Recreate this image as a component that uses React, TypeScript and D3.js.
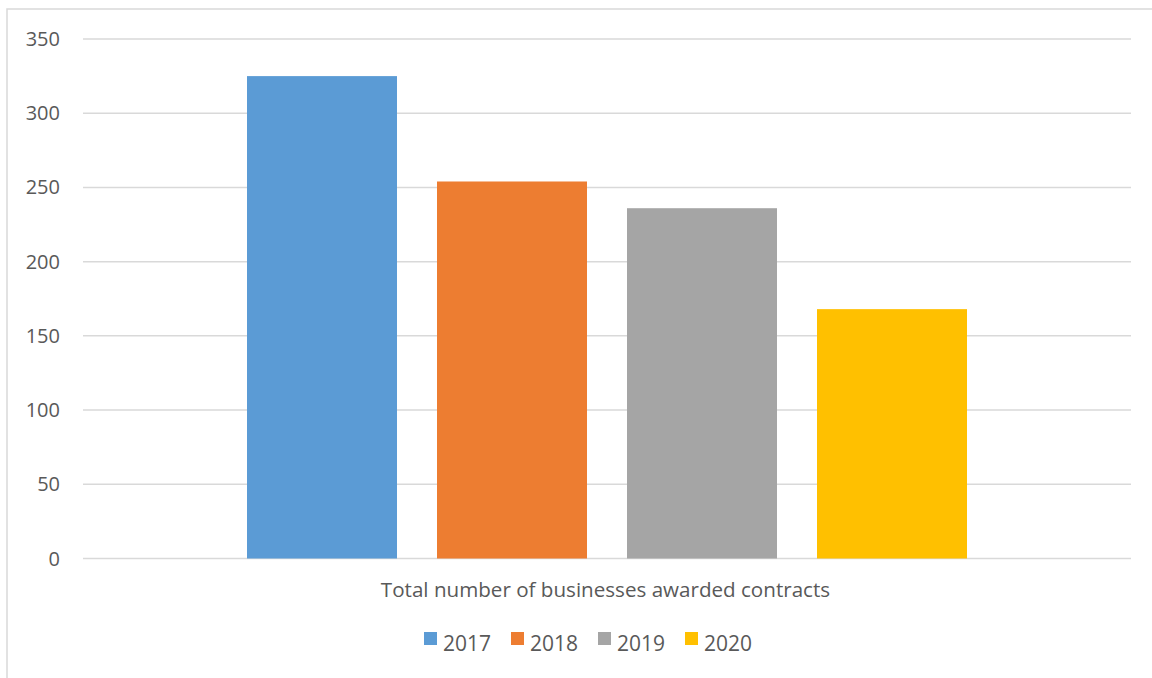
import React from "react";
import * as d3 from "d3";

const categories = ["Total number of businesses awarded contracts"];
const seriesNames = ["2017", "2018", "2019", "2020"];
const seriesValues = [325, 254, 236, 168];
const seriesColors = ["#5b9bd5", "#ed7d31", "#a5a5a5", "#ffc000"];
const yTicks = [0, 50, 100, 150, 200, 250, 300, 350];

export default function App() {
  const W = 1152, H = 678;
  const left = 83, right = 1131, top = 39, bottom = 558.5;
  const y = d3.scaleLinear().domain([0, 350]).range([bottom, top]);
  const x0 = d3.scaleBand().domain(categories).range([left, right]).paddingInner(0).paddingOuter(0);
  const innerL = x0(categories[0])! + 164;
  const innerR = x0(categories[0])! + x0.bandwidth() - 164;
  const x1 = d3.scaleBand().domain(seriesNames).range([innerL, innerR]).paddingInner(40 / 190).paddingOuter(0);
  const font = "'Open Sans', sans-serif";
  const legendX = [424, 511, 598, 685];
  return (
    <svg width={W} height={H} style={{ position: "absolute", left: 0, top: 0, background: "#fff" }}>
      <rect x={7} y={9} width={W + 10} height={H + 10} fill="#fff" stroke="#d9d9d9" strokeWidth={1.5} />
      {yTicks.map((t) => (
        <g key={t}>
          <line x1={left} x2={right} y1={y(t)} y2={y(t)} stroke="#d9d9d9" strokeWidth={1.5} />
          <text x={60} y={y(t) + 7} textAnchor="end" fontFamily={font} fontSize={20} fill="#595959">{t}</text>
        </g>
      ))}
      {seriesNames.map((s, i) => (
        <rect key={s} x={x1(s)} width={x1.bandwidth()} y={y(seriesValues[i])} height={y(0) - y(seriesValues[i])} fill={seriesColors[i]} />
      ))}
      <text x={605.5} y={597} textAnchor="middle" fontFamily={font} fontSize={20.6} fill="#595959">{categories[0]}</text>
      {seriesNames.map((s, i) => (
        <g key={s}>
          <rect x={legendX[i]} y={632} width={13} height={13} fill={seriesColors[i]} />
          <text x={legendX[i] + 19} y={651} fontFamily={font} fontSize={21} fill="#595959">{s}</text>
        </g>
      ))}
    </svg>
  );
}
